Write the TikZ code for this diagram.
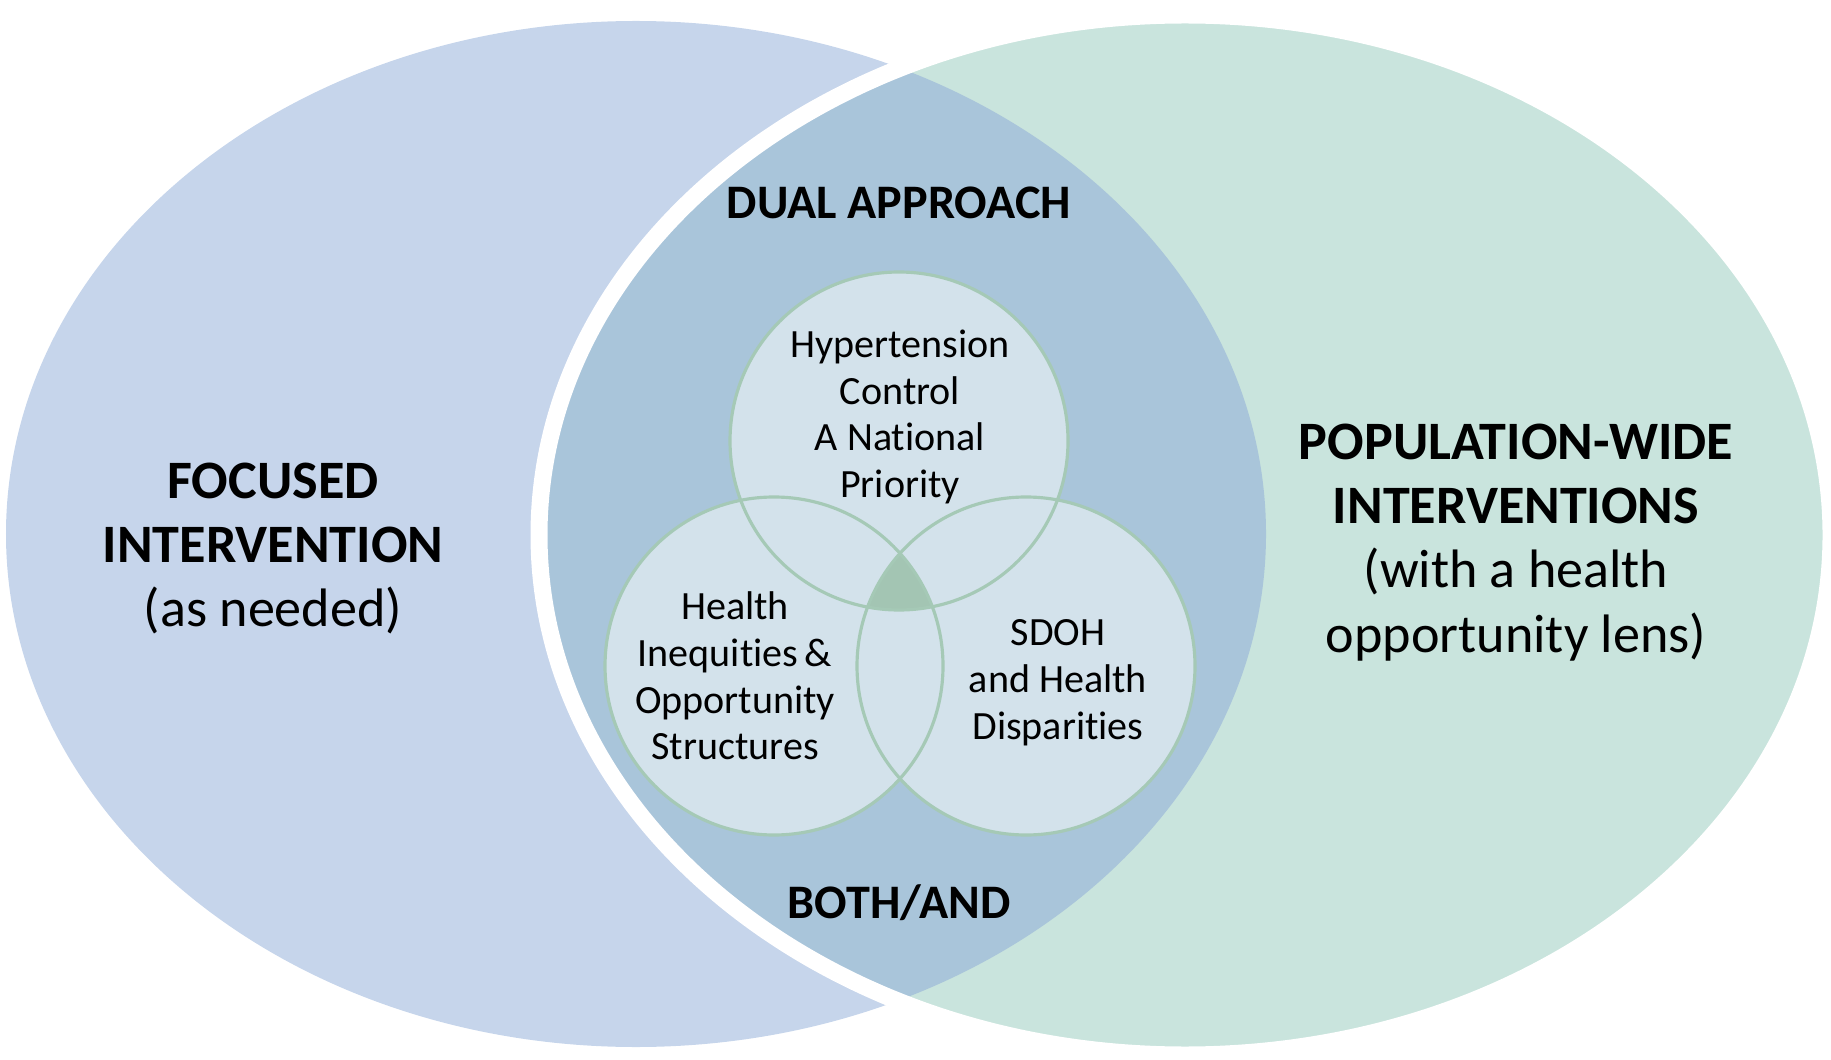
\documentclass[tikz,border=0pt]{standalone}
\usepackage{fontspec}
\setmainfont[Ligatures={NoCommon}]{Carlito}

\definecolor{focusblue}{HTML}{C6D5EB}
\definecolor{popgreen}{HTML}{C9E4DD}
\definecolor{dualblue}{HTML}{A9C5DA}
\definecolor{ringfill}{HTML}{D3E2EB}
\definecolor{ringline}{HTML}{A5C9B6}
\definecolor{coregreen}{HTML}{A3C5B3}

\begin{document}
\begin{tikzpicture}[
    ring/.style={circle, fill=ringfill, minimum size=3.38cm, inner sep=0pt},
    ringtext/.style={align=center, anchor=north, inner sep=0pt, font=\fontsize{11.4}{13.3}\selectfont},
    sidetext/.style={align=center, anchor=north, inner sep=0pt, font=\fontsize{15.4}{18.3}\selectfont},
    midtext/.style={inner sep=0pt, font=\fontsize{13.7}{16}\selectfont\bfseries}
    ]

    \useasboundingbox (0,0) rectangle (18.31,10.59);

    % the two big sets
    \fill[focusblue] (6.36,5.25) ellipse [x radius=6.30, y radius=5.13];
    \fill[popgreen] (11.85,5.24) ellipse [x radius=6.46, y radius=5.20];
    \begin{scope}
        \clip (11.85,5.24) ellipse [x radius=6.46, y radius=5.20];
        \fill[dualblue] (6.36,5.25) ellipse [x radius=6.30, y radius=5.13];
    \end{scope}
    \draw[white, line width=0.17cm] (11.85,5.24) ellipse [x radius=6.46, y radius=5.20];

    % three circles
    \node[ring] (hyp) at (8.99,6.18) {};
    \node[ring] (ineq) at (7.74,3.93) {};
    \node[ring] (sdoh) at (10.26,3.93) {};

    \begin{scope}
        \clip (hyp.center) circle [radius=1.69];
        \clip (ineq.center) circle [radius=1.69];
        \fill[coregreen] (sdoh.center) circle [radius=1.69];
    \end{scope}

    \foreach \c in {hyp,ineq,sdoh}
        \draw[ringline, line width=0.9pt] (\c.center) circle [radius=1.69];

    % labels
    \node[midtext] (dual) at (8.99,8.565) {DUAL APPROACH};
    \node[midtext, anchor=base] (both) at (8.99,1.41) {BOTH/AND};

    \node[sidetext] (focus) at (2.73,5.97) {\bfseries FOCUSED\\ \bfseries INTERVENTION\\ (as needed)};
    \node[sidetext] (popwide) at (15.16,6.36) {\bfseries POPULATION-WIDE\\ \bfseries INTERVENTIONS\\ (with a health\\ opportunity lens)};

    \node[ringtext] (hyptext) at (9.00,7.30) {Hypertension\\ Control\\ A National\\ Priority};
    \node[ringtext] (ineqtext) at (7.35,4.68) {Health\\ Inequities\,\&\\ Opportunity\\ Structures};
    \node[ringtext] (sdohtext) at (10.58,4.40) {SDOH\\ and Health\\ Disparities};

\end{tikzpicture}
\end{document}
